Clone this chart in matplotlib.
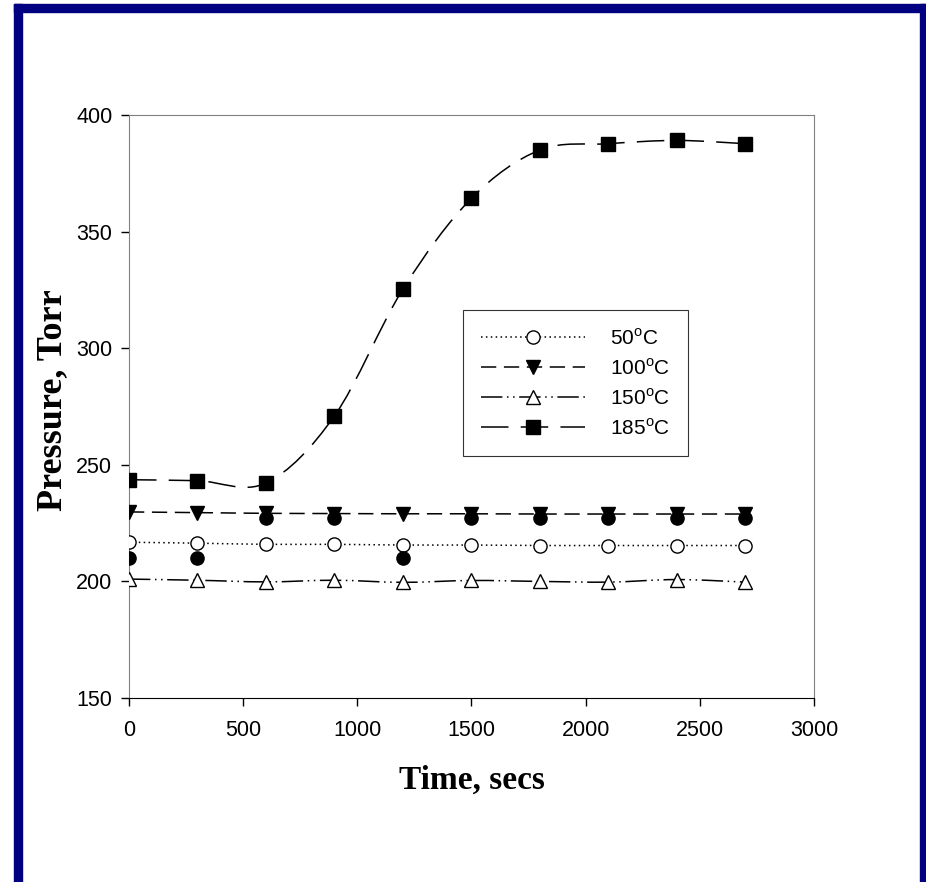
import numpy as np
import matplotlib
matplotlib.use("Agg")
import matplotlib.pyplot as plt
from matplotlib.path import Path
from matplotlib.patches import PathPatch, Rectangle
from matplotlib.lines import Line2D

plt.rcParams['font.family'] = ['Liberation Sans', 'DejaVu Sans']
plt.rcParams['mathtext.fontset'] = 'custom'
plt.rcParams['mathtext.rm'] = 'Liberation Sans'

# data
time = [0, 300, 600, 900, 1200, 1500, 1800, 2100, 2400, 2700]
p50 = [216.8, 216.4, 215.9, 215.9, 215.6, 215.6, 215.4, 215.4, 215.4, 215.4]
p100 = [229.8, 229.5, 229.2, 229.1, 229.0, 229.0, 228.9, 228.9, 228.9, 228.9]
p150 = [201.0, 200.5, 199.8, 200.5, 199.6, 200.4, 200.0, 199.7, 200.8, 199.7]
p185 = [243.6, 243.2, 242.2, 271.0, 325.4, 364.3, 385.0, 387.7, 389.1, 387.7]
# stray filled dots (no legend entry)
dot_t = [0, 300, 1200, 600, 900, 1500, 1800, 2100, 2400, 2700]
dot_p = [210, 210, 210, 227, 227, 227, 227, 227, 227, 227]

labels = ["50$^{\\mathrm{o}}$C", "100$^{\\mathrm{o}}$C", "150$^{\\mathrm{o}}$C", "185$^{\\mathrm{o}}$C"]


def smooth_path(x, y):
    # excel-like smoothed line: bezier segments through the points
    pts = np.column_stack([x, y]).astype(float)
    n = len(pts)
    verts = [pts[0]]
    codes = [Path.MOVETO]
    for i in range(n - 1):
        p0 = pts[i - 1] if i > 0 else pts[i]
        p1 = pts[i]
        p2 = pts[i + 1]
        p3 = pts[i + 2] if i + 2 < n else pts[i + 1]
        c1 = p1 + (p2 - p0) / 6
        c2 = p2 - (p3 - p1) / 6
        verts += [c1, c2, p2]
        codes += [Path.CURVE4] * 3
    return Path(verts, codes)


fig = plt.figure(figsize=(9.26, 8.82), dpi=100)
ax = fig.add_axes([0.1393, 0.2086, 0.7397, 0.661])

styles = [
    (p50, (0, (1, 2.2)), 'o', 'white'),
    (p100, (0, (10, 5)), 'v', 'black'),
    (p150, (0, (14, 3, 1, 3, 1, 3)), '^', 'white'),
    (p185, (0, (18, 8)), 's', 'black'),
]
handles = []
for (vals, ls, mk, fc), lab in zip(styles, labels):
    ax.add_patch(PathPatch(smooth_path(time, vals), fill=False, edgecolor='black',
                           linewidth=1.1, linestyle=ls, zorder=2))
    ax.plot(time, vals, linestyle='none', marker=mk, markersize=9.5,
            markerfacecolor=fc, markeredgecolor='black', markeredgewidth=1, zorder=3)
    handles.append(Line2D([], [], color='black', linewidth=1.1, linestyle=ls, marker=mk,
                          markersize=9.5, markerfacecolor=fc, markeredgecolor='black'))

ax.plot(dot_t, dot_p, linestyle='none', marker='o', markersize=9.5,
        color='black', zorder=4)

ax.set_xlim(0, 3000)
ax.set_ylim(150, 400)
ax.set_xticks(range(0, 3001, 500))
ax.set_yticks(range(150, 401, 50))
ax.tick_params(direction='out', length=6, width=1, labelsize=15.5)
ax.tick_params(axis='x', pad=10)
ax.tick_params(axis='y', pad=6)
for s in ['top', 'right', 'left']:
    ax.spines[s].set_color('#808080')
ax.spines['bottom'].set_color('black')

serif = ['Liberation Serif', 'DejaVu Serif']
fig.text(53 / 926, 1 - 400 / 882, 'Pressure, Torr', rotation=90, ha='center', va='center',
         fontsize=26, fontweight='bold', family=serif)
fig.text(472 / 926, 1 - 780 / 882, 'Time, secs', ha='center', va='center',
         fontsize=24, fontweight='bold', family=serif)

leg = ax.legend(handles, labels, loc='upper left', bbox_to_anchor=(463 / 926, 1 - 310 / 882),
                bbox_transform=fig.transFigure, fontsize=15, frameon=True, fancybox=False,
                edgecolor='black', handlelength=5.0, handletextpad=1.2, labelspacing=0.45,
                borderpad=0.85, borderaxespad=0)
leg.get_frame().set_linewidth(0.8)

# navy page border
navy = '#000080'
fig.patches.append(Rectangle((14 / 926, 0), 8 / 926, 1 - 4 / 882, transform=fig.transFigure,
                             color=navy, zorder=10))
fig.patches.append(Rectangle((14 / 926, 1 - 12 / 882), 912 / 926, 8 / 882,
                             transform=fig.transFigure, color=navy, zorder=10))
fig.patches.append(Rectangle((920 / 926, 0), 6 / 926, 1 - 4 / 882, transform=fig.transFigure,
                             color=navy, zorder=10))

fig.savefig('out.png', dpi=100)
